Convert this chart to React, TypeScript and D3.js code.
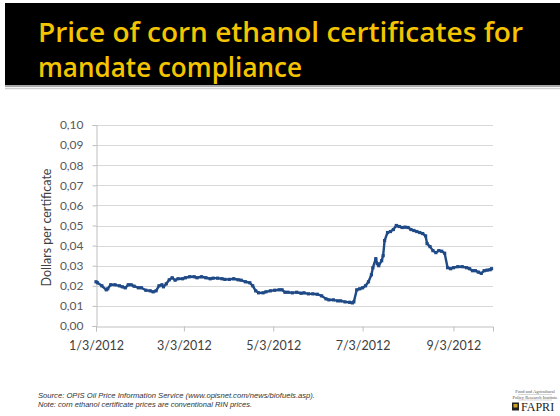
import React, { useEffect, useRef } from 'react';
import * as d3 from 'd3';

// days since 1/3/2012
const dayOffsets = [
  0, 1, 4, 7, 8, 10, 13, 16, 18, 20, 22, 24, 26, 29, 31, 34, 37, 39, 41, 43,
  45, 46, 48, 50, 52, 54, 56, 59, 61, 64, 67, 69, 72, 75, 78, 80, 83, 86, 88, 91,
  94, 97, 99, 102, 105, 107, 109, 111, 114, 116, 119, 122, 125, 127, 129, 131, 134, 137, 140, 142,
  145, 148, 151, 154, 157, 159, 162, 165, 167, 170, 173, 175, 176, 178, 180, 182, 184, 186, 188, 189,
  191, 192, 193, 195, 196, 197, 199, 201, 203, 205, 207, 209, 211, 213, 215, 217, 219, 221, 223, 225,
  226, 228, 230, 232, 234, 236, 238, 240, 242, 244, 247, 250, 253, 255, 257, 259, 261, 263, 265, 267,
  269, 270,
];

// dollars per certificate
const prices = [
  0.022, 0.0215, 0.02, 0.018, 0.0185, 0.0205, 0.0205, 0.02, 0.0195, 0.019, 0.0205, 0.0205, 0.0198, 0.019, 0.019, 0.0178, 0.0175, 0.017, 0.0175, 0.02,
  0.0205, 0.0195, 0.021, 0.023, 0.024, 0.0228, 0.0235, 0.0235, 0.024, 0.0245, 0.0245, 0.024, 0.0245, 0.024, 0.0235, 0.0238, 0.0238, 0.0235, 0.0232, 0.0232,
  0.0235, 0.023, 0.0228, 0.022, 0.0215, 0.02, 0.0175, 0.0165, 0.0165, 0.017, 0.0175, 0.0178, 0.018, 0.018, 0.0168, 0.0168, 0.0165, 0.0168, 0.0163, 0.0165,
  0.016, 0.016, 0.0158, 0.015, 0.0135, 0.013, 0.013, 0.0125, 0.0125, 0.012, 0.0118, 0.0115, 0.012, 0.018, 0.0185, 0.019, 0.02, 0.022, 0.0255, 0.029,
  0.0335, 0.031, 0.03, 0.0325, 0.035, 0.0425, 0.0465, 0.047, 0.048, 0.05, 0.0495, 0.049, 0.0492, 0.049, 0.048, 0.0475, 0.047, 0.0465, 0.046, 0.0448,
  0.041, 0.0395, 0.0375, 0.0365, 0.0375, 0.0372, 0.0362, 0.029, 0.0285, 0.029, 0.0295, 0.0295, 0.029, 0.0285, 0.0275, 0.0275, 0.0268, 0.0262, 0.0275, 0.0278,
  0.028, 0.0285,
];

const startDate = new Date(2012, 0, 3);
const endDate = new Date(2012, 8, 30);
const xTicks = [new Date(2012, 0, 3), new Date(2012, 2, 3), new Date(2012, 4, 3), new Date(2012, 6, 3), new Date(2012, 8, 3)];
const yTicks = [0, 0.01, 0.02, 0.03, 0.04, 0.05, 0.06, 0.07, 0.08, 0.09, 0.1];

const titleLines = ['Price of corn ethanol certificates for', 'mandate compliance'];
const footnotes = [
  'Source: OPIS Oil Price Information Service (www.opisnet.com/news/biofuels.asp).',
  'Note: corn ethanol certificate  prices are conventional  RIN prices.',
];

const W = 560, H = 416;
const plot = { left: 96, right: 493, top: 125, bottom: 326 };

const App: React.FC = () => {
  const svgRef = useRef<SVGSVGElement>(null);

  useEffect(() => {
    if (!svgRef.current) return;
    const svg = d3.select(svgRef.current);
    svg.selectAll('*').remove();

    svg.append('rect').attr('width', W).attr('height', H).attr('fill', '#fff');

    // title band
    svg.append('rect').attr('x', 5).attr('y', 3).attr('width', W - 5).attr('height', 82).attr('fill', '#000');
    svg.append('line').attr('x1', 5).attr('x2', W).attr('y1', 86).attr('y2', 86).attr('stroke', '#8c8c8c').attr('stroke-width', 1.5);
    svg.append('line').attr('x1', 5).attr('x2', W).attr('y1', 88.5).attr('y2', 88.5).attr('stroke', '#d0d0d0').attr('stroke-width', 1.5);

    const titleWidths = [485, 264];
    svg.selectAll('.title')
      .data(titleLines)
      .enter().append('text')
      .attr('x', 38)
      .attr('y', (_, i) => 42 + i * 35)
      .attr('textLength', (_, i) => titleWidths[i])
      .attr('lengthAdjust', 'spacingAndGlyphs')
      .attr('fill', '#f5c400')
      .style('font-family', '"Open Sans", Lato, sans-serif')
      .style('font-weight', '600')
      .style('font-size', '27px')
      .text(d => d);

    const x = d3.scaleTime().domain([startDate, endDate]).range([plot.left, plot.right]);
    const y = d3.scaleLinear().domain([0, 0.1]).range([plot.bottom, plot.top]);

    const g = svg.append('g');
    const fmtY = (v: number) => d3.format('.2f')(v).replace('.', ',');
    const fmtX = d3.timeFormat('%-m/%-d/%Y');

    // gridlines
    g.selectAll('.grid')
      .data(yTicks.slice(1))
      .enter().append('line')
      .attr('x1', plot.left).attr('x2', plot.right)
      .attr('y1', d => Math.round(y(d)) + 0.5).attr('y2', d => Math.round(y(d)) + 0.5)
      .attr('stroke', '#d9d9d9').attr('stroke-width', 1);

    // y axis
    const yAxis = g.append('g')
      .attr('transform', `translate(${plot.left + 0.5},0)`)
      .call(d3.axisLeft(y).tickValues(yTicks).tickFormat(d => fmtY(d as number)).tickSizeOuter(0).tickSize(4).tickPadding(9));
    yAxis.select('.domain').attr('stroke', '#bfbfbf');
    yAxis.selectAll('.tick line').attr('stroke', '#bfbfbf');
    yAxis.selectAll('text')
      .attr('fill', '#595959')
      .style('font-family', 'Lato, "Open Sans", sans-serif')
      .style('font-size', '12px');

    // x axis
    const xAxis = g.append('g')
      .attr('transform', `translate(0,${plot.bottom + 0.5})`)
      .call(d3.axisBottom(x).tickValues(xTicks).tickFormat(d => fmtX(d as Date)).tickSizeOuter(0).tickSize(5).tickPadding(10));
    xAxis.select('.domain').attr('stroke', '#bfbfbf');
    xAxis.selectAll('.tick line').attr('stroke', '#bfbfbf');
    xAxis.selectAll('text')
      .attr('fill', '#404040')
      .style('font-family', 'Lato, "Open Sans", sans-serif')
      .style('font-size', '12.5px');

    svg.append('text')
      .attr('transform', `translate(51,${(plot.top + plot.bottom) / 2 + 2}) rotate(-90)`)
      .attr('text-anchor', 'middle')
      .attr('fill', '#404040')
      .style('font-family', 'Lato, "Open Sans", sans-serif')
      .style('font-size', '12.5px')
      .text('Dollars per certificate');

    // series
    const points = dayOffsets.map((d, i) => ({ date: d3.timeDay.offset(startDate, d), value: prices[i] }));
    const line = d3.line<{ date: Date; value: number }>().x(d => x(d.date)).y(d => y(d.value));
    g.append('path')
      .datum(points)
      .attr('d', line)
      .attr('fill', 'none')
      .attr('stroke', '#1f4a86')
      .attr('stroke-width', 2.4)
      .attr('stroke-linejoin', 'round');
    g.selectAll('.mark')
      .data(points)
      .enter().append('rect')
      .attr('x', d => x(d.date) - 1.6)
      .attr('y', d => y(d.value) - 1.6)
      .attr('width', 3.2).attr('height', 3.2)
      .attr('fill', '#1f4a86');

    // footnotes
    const footWidths = [277, 214];
    svg.selectAll('.foot')
      .data(footnotes)
      .enter().append('text')
      .attr('x', 38)
      .attr('y', (_, i) => 398 + i * 9)
      .attr('textLength', (_, i) => footWidths[i])
      .attr('lengthAdjust', 'spacingAndGlyphs')
      .attr('fill', '#333')
      .style('font-family', '"Liberation Sans", sans-serif')
      .style('font-style', 'italic')
      .style('font-size', '7.5px')
      .text(d => d);

    // FAPRI logo
    const logo = svg.append('g').attr('transform', 'translate(535,0)');
    ['Food and Agricultural', 'Policy Research Institute'].forEach((t, i) => {
      logo.append('text')
        .attr('y', 393 + i * 5.5)
        .attr('text-anchor', 'middle')
        .attr('fill', '#555')
        .style('font-family', '"Liberation Serif", serif')
        .style('font-size', '4.5px')
        .text(t);
    });
    logo.append('line').attr('x1', -17).attr('x2', 17).attr('y1', 394.5).attr('y2', 394.5).attr('stroke', '#999').attr('stroke-width', 0.4);
    logo.append('line').attr('x1', -17).attr('x2', 17).attr('y1', 400).attr('y2', 400).attr('stroke', '#999').attr('stroke-width', 0.4);
    logo.append('rect').attr('x', -23).attr('y', 402.5).attr('width', 7).attr('height', 8).attr('fill', '#222');
    logo.append('rect').attr('x', -21.5).attr('y', 404).attr('width', 4).attr('height', 3.5).attr('fill', '#c9a227');
    logo.append('text')
      .attr('x', -14)
      .attr('y', 411)
      .attr('fill', '#222')
      .style('font-family', '"Liberation Serif", serif')
      .style('font-size', '12px')
      .text('FAPRI');
  }, []);

  return (
    <svg
      ref={svgRef}
      width={W}
      height={H}
      style={{ position: 'absolute', left: 0, top: 0, display: 'block' }}
    />
  );
};

export default App;
